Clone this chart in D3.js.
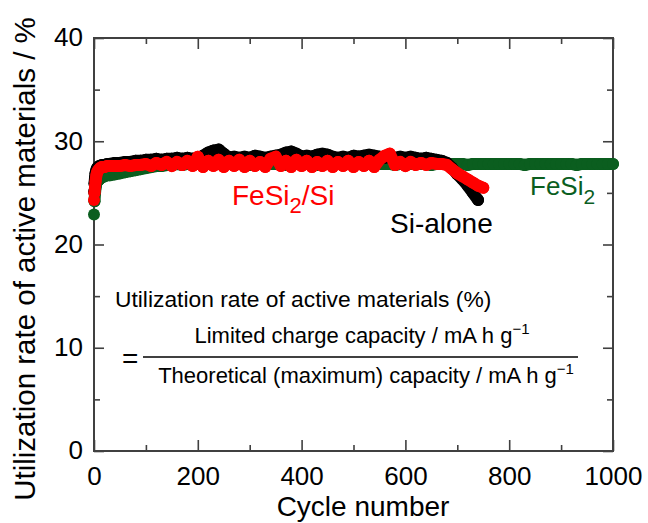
<!DOCTYPE html>
<html><head><meta charset="utf-8">
<script src="https://cdn.jsdelivr.net/npm/d3@7/dist/d3.min.js"></script>
<style>
html,body{margin:0;padding:0;background:#fff;}
svg{display:block;font-family:"Liberation Sans",Arial,Helvetica,sans-serif;}
</style></head>
<body><svg id="c" width="648" height="523"></svg>
<script>
// ---- data ----
const cycles = [0,1,2,3,4,5,6,8,10,12,15,20,25,30,
40,50,60,70,80,90,100,110,120,130,140,150,160,170,180,190,
200,210,220,230,240,250,260,270,280,290,300,310,320,330,340,350,360,370,380,390,
400,410,420,430,440,450,460,470,480,490,500,510,520,530,540,550,560,570,580,590,
600,610,620,630,640,650,660,670,680,690,700,710,720,730,740,750,760,770,780,790,
800,810,820,830,840,850,860,870,880,890,900,910,920,930,940,950,960,970,980,990,1000];

const fesi2 = [22.9,24.2,25.0,25.5,25.8,26.0,26.1,26.2,26.3,26.4,26.5,26.6,26.7,26.7,
26.8,26.9,27.0,27.1,27.2,27.3,27.4,27.5,27.6,27.6,27.7,27.7,27.8,27.7,27.8,27.8,
27.8,27.7,27.8,27.8,27.8,27.7,27.8,27.8,27.8,27.8,27.7,27.8,27.8,27.8,27.8,27.8,27.8,27.7,27.8,27.8,
27.8,27.8,27.8,27.7,27.8,27.8,27.8,27.8,27.8,27.8,27.7,27.8,27.8,27.8,27.8,27.8,27.8,27.8,27.7,27.8,
27.8,27.8,27.8,27.8,27.8,27.7,27.8,27.8,27.8,27.8,27.8,27.8,27.7,27.8,27.8,27.8,27.8,27.8,27.8,27.8,
27.8,27.8,27.8,27.7,27.8,27.8,27.8,27.8,27.8,27.8,27.8,27.8,27.8,27.7,27.8,27.8,27.8,27.8,27.8,27.8,27.8];

const fesi2si = [24.3,25.0,25.6,26.1,26.5,26.8,27.0,27.2,27.3,27.4,27.5,27.5,27.6,27.6,
27.6,27.6,27.7,27.6,27.7,27.7,27.8,27.6,27.9,27.7,28.0,27.6,28.0,27.7,28.1,27.6,
28.5,27.5,28.1,27.6,28.2,27.5,28.1,27.6,28.2,27.5,28.1,27.6,28.0,27.5,28.3,28.5,27.6,28.1,27.5,28.2,
27.6,28.1,27.5,28.0,27.6,28.1,27.5,28.0,27.6,28.1,27.5,28.0,27.6,28.1,27.5,28.2,28.6,28.8,27.7,28.0,
27.6,28.0,27.7,27.9,27.7,27.9,27.8,27.8,27.7,27.3,26.9,26.6,26.3,26.0,25.7,25.5,null,null,null,null,
null,null,null,null,null,null,null,null,null,null,null,null,null,null,null,null,null,null,null,null,null];

const sialone = [25.1,25.9,26.5,26.9,27.1,27.3,27.4,27.5,27.6,27.6,27.7,27.7,27.8,27.8,
27.9,27.9,28.0,28.0,28.1,28.1,28.2,28.2,28.3,28.2,28.3,28.3,28.4,28.3,28.4,28.3,
28.4,28.6,28.9,29.1,29.2,28.8,28.4,28.5,28.4,28.5,28.4,28.6,28.5,28.4,28.5,28.6,28.7,28.9,29.0,28.8,
28.5,28.6,28.5,28.7,28.8,28.7,28.5,28.4,28.5,28.4,28.6,28.5,28.6,28.7,28.6,28.5,28.4,28.5,28.4,28.5,
28.4,28.5,28.4,28.3,28.4,28.3,28.2,28.1,27.9,27.4,26.8,26.3,25.7,25.0,24.3,null,null,null,null,null,
null,null,null,null,null,null,null,null,null,null,null,null,null,null,null,null,null,null,null,null,null];

const xTicks = [0,200,400,600,800,1000];
const xMinor = [100,300,500,700,900];
const yTicks = [0,10,20,30,40];
const yMinor = [5,15,25,35];

// ---- layout ----
const svg = d3.select("#c");
const L=94, R=613, T=38, B=451;
const x = d3.scaleLinear().domain([0,1000]).range([L,R]);
const y = d3.scaleLinear().domain([0,40]).range([B,T]);
const axisCol = "#404040";
const green = "#0b5e1f", red = "#ff0000";
const RAD = 6;

function styleAxis(g){ g.select(".domain").remove(); g.selectAll("line").attr("stroke",axisCol).attr("stroke-width",1.6); }

// bottom
svg.append("g").attr("transform",`translate(0,${B})`)
  .call(d3.axisBottom(x).tickValues(xTicks).tickSize(-11).tickPadding(16).tickFormat(d3.format("d")))
  .call(styleAxis).call(g=>g.selectAll("text").attr("font-size",26).attr("fill","#000").attr("font-family","Liberation Sans, Arial, sans-serif"));
svg.append("g").attr("transform",`translate(0,${B})`)
  .call(d3.axisBottom(x).tickValues(xMinor).tickSize(-6).tickFormat("")).call(styleAxis);
// top
svg.append("g").attr("transform",`translate(0,${T})`)
  .call(d3.axisTop(x).tickValues(xTicks).tickSize(-11).tickFormat("")).call(styleAxis);
svg.append("g").attr("transform",`translate(0,${T})`)
  .call(d3.axisTop(x).tickValues(xMinor).tickSize(-6).tickFormat("")).call(styleAxis);
// left
svg.append("g").attr("transform",`translate(${L},0)`)
  .call(d3.axisLeft(y).tickValues(yTicks).tickSize(-10).tickPadding(11).tickFormat(d3.format("d")))
  .call(styleAxis).call(g=>g.selectAll("text").attr("font-size",26).attr("fill","#000").attr("font-family","Liberation Sans, Arial, sans-serif").attr("dy","0.3em"));
svg.append("g").attr("transform",`translate(${L},0)`)
  .call(d3.axisLeft(y).tickValues(yMinor).tickSize(-6).tickFormat("")).call(styleAxis);
// right
svg.append("g").attr("transform",`translate(${R},0)`)
  .call(d3.axisRight(y).tickValues(yTicks).tickSize(-10).tickFormat("")).call(styleAxis);
svg.append("g").attr("transform",`translate(${R},0)`)
  .call(d3.axisRight(y).tickValues(yMinor).tickSize(-6).tickFormat("")).call(styleAxis);

// frame
svg.append("rect").attr("x",L).attr("y",T).attr("width",R-L).attr("height",B-T)
  .attr("fill","none").attr("stroke",axisCol).attr("stroke-width",2);

// ---- series ----
function series(vals,col){
  const pts = cycles.map((c,i)=>({c,v:vals[i],i})).filter(d=>d.v!=null);
  const g = svg.append("g");
  g.append("path").datum(pts.filter(d=>d.i>=1))
    .attr("d", d3.line().x(d=>x(d.c)).y(d=>y(d.v)))
    .attr("fill","none").attr("stroke",col).attr("stroke-width",RAD*2)
    .attr("stroke-linecap","round").attr("stroke-linejoin","round");
  g.selectAll("circle").data(pts).join("circle")
    .attr("cx",d=>x(d.c)).attr("cy",d=>y(d.v)).attr("r",RAD).attr("fill",col);
}
series(fesi2,green);
series(sialone,"#000");
series(fesi2si,red);

// ---- annotations ----
const t1 = svg.append("text").attr("x",232).attr("y",205).attr("font-size",28).attr("fill",red);
t1.append("tspan").text("FeSi");
t1.append("tspan").attr("font-size",22).attr("dy",8).text("2");
t1.append("tspan").attr("dy",-8).text("/Si");

svg.append("text").attr("x",390).attr("y",233).attr("font-size",28).attr("fill","#000").text("Si-alone");

const t3 = svg.append("text").attr("x",530).attr("y",195).attr("font-size",26).attr("fill",green);
t3.append("tspan").text("FeSi");
t3.append("tspan").attr("font-size",21).attr("dy",9).text("2");

// formula
svg.append("text").attr("x",115).attr("y",307).attr("font-size",22.8).text("Utilization rate of active materials (%)");
svg.append("text").attr("x",122).attr("y",368).attr("font-size",28).text("=");
svg.append("line").attr("x1",143).attr("x2",578).attr("y1",357).attr("y2",357).attr("stroke","#000").attr("stroke-width",1.5);
const num = svg.append("text").attr("x",362).attr("y",343).attr("font-size",22).attr("text-anchor","middle");
num.append("tspan").text("Limited charge capacity / mA h g");
num.append("tspan").attr("font-size",15).attr("dy",-9).text("\u22121");
const den = svg.append("text").attr("x",366).attr("y",383).attr("font-size",22).attr("text-anchor","middle");
den.append("tspan").text("Theoretical (maximum) capacity / mA h g");
den.append("tspan").attr("font-size",15).attr("dy",-9).text("\u22121");

// axis titles
svg.append("text").attr("x",363).attr("y",516).attr("font-size",28).attr("text-anchor","middle").text("Cycle number");
svg.append("text").attr("transform","translate(35,259) rotate(-90)").attr("font-size",29.5).attr("text-anchor","middle")
  .text("Utilization rate of active materials / %");
</script></body></html>
